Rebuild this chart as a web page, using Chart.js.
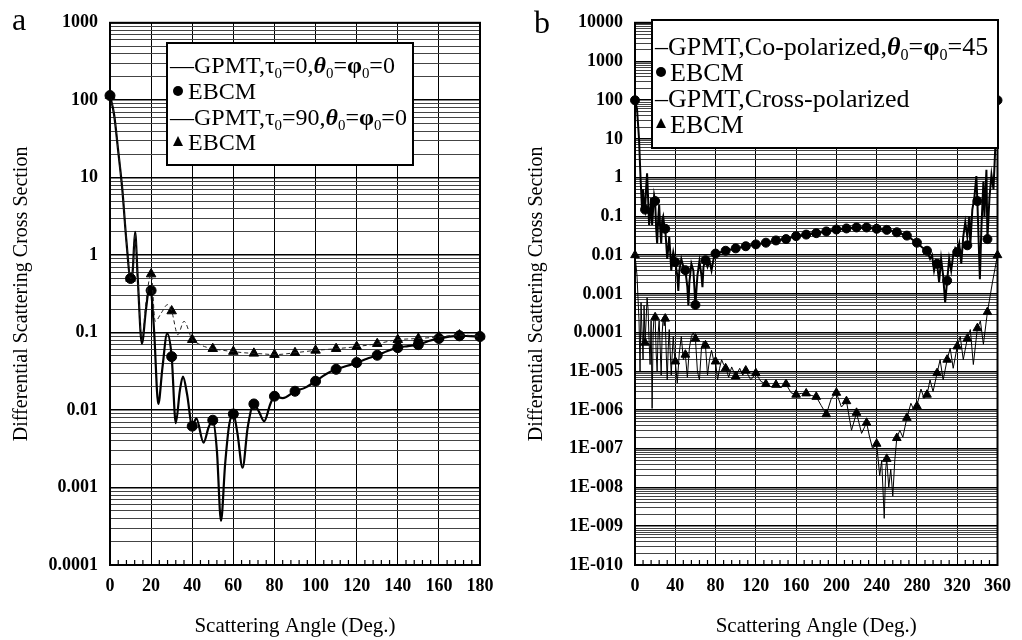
<!DOCTYPE html>
<html><head><meta charset="utf-8">
<script src="https://cdn.jsdelivr.net/npm/chart.js@4.4.1/dist/chart.umd.min.js"></script>
<style>
html,body{margin:0;padding:0;background:#fff;width:1022px;height:640px;overflow:hidden;font-family:"Liberation Serif",serif;color:#000;}
.wrap{position:absolute;top:0;height:640px;}
.panel{position:absolute;font-size:32px;line-height:1;font-family:"Liberation Serif",serif;}
</style></head>
<body>
<div class="wrap" style="left:0;width:515px"><canvas id="cA" width="515" height="640"></canvas></div>
<div class="wrap" style="left:515px;width:507px"><canvas id="cB" width="507" height="640"></canvas></div>
<div class="panel" style="left:12px;top:3px">a</div>
<div class="panel" style="left:534px;top:6px">b</div>

<script>
// ---------- Panel a data ----------
const aXTicks = [0,20,40,60,80,100,120,140,160,180];
const aYTickLabels = ['0.0001','0.001','0.01','0.1','1','10','100','1000'];
const aLine0Angle = [0,2,4,6,8,10,11,12.2,13.5,15.5,17.5,19.3,20,21.5,23.5,25.5,27.8,30,32,34,35.5,37.5,40,42,45.5,48,50,52,54,56,58,60,62,64.5,67,70,72.5,75,78,80,84,90,95,100,105,110,115,120,125,130,135,140,145,150,155,160,165,170,175,180];
const aLine0Value = [115,65,22,7,1.5,0.5,0.6,2.0,0.5,0.072,0.2,0.4,0.35,0.1,0.012,0.035,0.097,0.049,0.0068,0.018,0.027,0.016,0.0062,0.0078,0.0038,0.006,0.0074,0.003,0.00037,0.002,0.0065,0.0089,0.005,0.0018,0.006,0.012,0.0095,0.0072,0.012,0.0151,0.0143,0.0175,0.0195,0.0236,0.029,0.0336,0.037,0.041,0.046,0.051,0.058,0.064,0.067,0.070,0.078,0.084,0.089,0.091,0.090,0.089];
const aLine90Angle = [0,2,4,6,8,10,11,12.2,13.5,15.5,17.5,20,22,25,28,30,33,36,40,43,46,50,55,60,65,70,75,80,85,90,95,100,110,120,130,140,150,160,170,180];
const aLine90Value = [115,65,22,7,1.5,0.5,0.6,1.9,0.5,0.08,0.25,0.57,0.14,0.18,0.23,0.19,0.094,0.14,0.081,0.072,0.066,0.062,0.059,0.057,0.055,0.054,0.053,0.052,0.053,0.055,0.057,0.059,0.062,0.066,0.072,0.081,0.084,0.088,0.093,0.09];
const aEbcmAngle = [0,10,20,30,40,50,60,70,80,90,100,110,120,130,140,150,160,170,180];
const aEbcm0Value = [115,0.5,0.35,0.049,0.0062,0.0074,0.0089,0.012,0.0151,0.0175,0.0236,0.0336,0.041,0.051,0.064,0.070,0.084,0.091,0.089];
const aEbcm90Value = [115,0.5,0.57,0.19,0.081,0.062,0.057,0.054,0.052,0.055,0.059,0.062,0.066,0.072,0.081,0.084,0.088,0.093,0.09];
const aLegendRows = [
  {marker: 'line', parts: [['—GPMT,τ'], ['0', 'sub'], ['=0,'], ['θ', 'bi'], ['0', 'sub'], ['='], ['φ', 'b'], ['0', 'sub'], ['=0']]},
  {marker: 'circle', parts: [['EBCM']]},
  {marker: 'line', parts: [['—GPMT,τ'], ['0', 'sub'], ['=90,'], ['θ', 'bi'], ['0', 'sub'], ['='], ['φ', 'b'], ['0', 'sub'], ['=0']]},
  {marker: 'triangle', parts: [['EBCM']]}
];

// ---------- Panel b data ----------
const bXTicks = [0,40,80,120,160,200,240,280,320,360];
const bYTickLabels = ['1E-010','1E-009','1E-008','1E-007','1E-006','1E-005','0.0001','0.001','0.01','0.1','1','10','100','1000','10000'];
const bCoAngle = [0,2,4,5.5,7,8,9,10,11,12,13,14,15,16,17,18,19,20,21,22,23,24,25,26,27,28,29,30,31,32,33,34,35,36,37,38,40,42,43,44,46,48,50,52,53,54,56,58,60,62,64,66,67,68,70,72,74,76,78,80,90,100,110,120,130,140,150,160,170,180,190,200,210,220,230,240,250,260,270,280,285,290,293,295,297,299,300,302,304,306,308,310,312,314,316,318,320,322,324,326,328,330,332,333,335,337,339,340,342.5,344,346,347,349,350,352,354,356,358,360];
const bCoValue = [100,60,10,1.0,0.15,0.5,0.2,0.15,0.5,1.3,0.3,0.06,0.1,0.3,0.06,0.15,0.35,0.25,0.05,0.02,0.08,0.2,0.05,0.02,0.08,0.1,0.06,0.048,0.02,0.008,0.015,0.03,0.012,0.004,0.008,0.012,0.0066,0.003,0.0012,0.004,0.008,0.005,0.0041,0.0015,0.0005,0.002,0.006,0.004,0.00052,0.003,0.007,0.003,0.0015,0.005,0.0074,0.005,0.007,0.004,0.008,0.011,0.013,0.015,0.017,0.019,0.021,0.024,0.026,0.031,0.034,0.037,0.041,0.046,0.049,0.052,0.052,0.048,0.045,0.039,0.032,0.021,0.016,0.013,0.008,0.01,0.004,0.007,0.006,0.002,0.008,0.003,0.0006,0.0022,0.008,0.004,0.01,0.015,0.012,0.02,0.006,0.03,0.07,0.03,0.1,0.018,0.15,0.3,1.1,0.25,0.0024,0.05,0.8,0.1,1.6,0.026,0.3,1.2,0.5,8,100];
const bCrossAngle = [0,2,4,5,6,7,8,9,10,11,12,13,14,15,16,17,18,19,20,21,22,23,24,25,26,27,28,29,30,31,32,33,34,35,36,37,38,39,40,42,44,46,48,50,52,54,56,58,60,62,64,66,68,70,72,74,76,78,80,82,84,86,88,90,93,96,100,104,107,110,115,120,125,130,135,140,145,150,155,160,165,170,175,180,185,190,195,200,205,210,215,220,225,230,233,236,240,243,245,247.5,249,250,252,254,256,258,260,263,266,270,274,277,280,284,287,290,293,296,300,303,306,310,313,316,320,323,326,330,333,336,340,343,346,350,355,360];
const bCrossValue = [0.01,0.003,2e-4,1e-5,6e-4,1e-4,2e-5,5e-4,5.5e-5,2e-4,8e-4,4e-4,6e-5,1.5e-5,2e-4,1.1e-6,1e-4,3e-4,2.5e-4,3e-5,1e-5,1e-4,2e-4,4e-5,8e-6,1e-4,2.5e-4,1.5e-4,2.3e-4,3e-5,6e-6,4e-5,1.2e-4,3e-5,8e-6,3e-5,8e-5,3e-5,1.8e-5,5e-6,3e-5,8e-5,2e-5,2.7e-5,7e-6,4e-5,8e-5,1e-4,7e-5,1e-5,6e-6,4e-5,6e-5,4.5e-5,8e-6,2e-5,3.5e-5,2e-5,1.8e-5,6e-6,1.2e-5,2e-5,1.5e-5,1.3e-5,7e-6,1.3e-5,7.4e-6,1.2e-5,8e-6,1.05e-5,6e-6,9e-6,5.5e-6,4.7e-6,4e-6,4.5e-6,3.8e-6,4.7e-6,2.8e-6,2.5e-6,2.7e-6,2.7e-6,2.4e-6,2.2e-6,1.3e-6,7.8e-7,2e-6,2.8e-6,1.2e-6,1.7e-6,3e-7,8.5e-7,2.5e-7,4.7e-7,2e-7,1e-7,1.35e-7,2e-8,5e-8,1.6e-9,3e-8,5.5e-8,1e-8,3e-8,6e-9,5e-8,1.9e-7,3e-7,2e-7,6.3e-7,1.5e-6,1e-6,1.3e-6,3.5e-6,2e-6,2.5e-6,6e-6,3e-6,9e-6,2e-5,6e-6,2e-5,4e-5,1.2e-5,4.4e-5,8e-5,2e-5,7e-5,1.2e-4,1.5e-5,1.3e-4,2e-4,5e-5,3.4e-4,2e-3,0.01];
const bEbcmAngle = [0,10,20,30,40,50,60,70,80,90,100,110,120,130,140,150,160,170,180,190,200,210,220,230,240,250,260,270,280,290,300,310,320,330,340,350,360];
const bEbcmCoValue = [100,0.15,0.25,0.048,0.0066,0.0041,0.00052,0.0074,0.011,0.013,0.015,0.017,0.019,0.021,0.024,0.026,0.031,0.034,0.037,0.041,0.046,0.049,0.052,0.052,0.048,0.045,0.039,0.032,0.021,0.013,0.006,0.0022,0.012,0.018,0.25,0.026,100];
const bEbcmCrossValue = [0.01,5.5e-5,2.5e-4,2.3e-4,1.8e-5,2.7e-5,7e-5,4.7e-5,1.8e-5,1.2e-5,7.4e-6,1.05e-5,9e-6,4.7e-6,4.5e-6,4.7e-6,2.5e-6,2.7e-6,2.2e-6,7.8e-7,2.8e-6,1.7e-6,8.5e-7,4.7e-7,1.35e-7,5.5e-8,1.9e-7,6.3e-7,1.26e-6,2.5e-6,9e-6,2e-5,4.4e-5,7e-5,1.3e-4,3.4e-4,0.01];
const bLegendRows = [
  {marker: 'line', parts: [['–GPMT,Co-polarized,'], ['θ', 'bi'], ['0', 'sub'], ['='], ['φ', 'b'], ['0', 'sub'], ['=45']]},
  {marker: 'circle', parts: [['EBCM']]},
  {marker: 'line', parts: [['–GPMT,Cross-polarized']]},
  {marker: 'triangle', parts: [['EBCM']]}
];

// ---------- helpers ----------
const FAMILY = '"Liberation Serif", "Times New Roman", serif';
const pts = (xs, ys) => xs.map((x, i) => ({x, y: ys[i]}));

function logTicks(minExp, maxExp) {
  const t = [];
  for (let e = minExp; e <= maxExp; e++) {
    t.push({value: Math.pow(10, e), major: true});
    if (e < maxExp) for (let k = 2; k <= 9; k++) t.push({value: k * Math.pow(10, e), major: false});
  }
  return t;
}

const framePlugin = {
  id: 'frame',
  afterDraw(chart, args, opts) {
    const {ctx, chartArea: {left, top, right, bottom}, scales: {x}} = chart;
    ctx.save();
    ctx.strokeStyle = '#000';
    ctx.lineWidth = 1.2;
    const step = opts.minorStep, max = x.max;
    for (let v = step; v < max; v += step) {
      if (Math.abs(v % opts.majorStep) < 1e-9) continue;
      const px = x.getPixelForValue(v);
      ctx.beginPath(); ctx.moveTo(px, bottom); ctx.lineTo(px, bottom - 5); ctx.stroke();
    }
    ctx.lineWidth = 2;
    ctx.strokeRect(left, top, right - left, bottom - top);
    ctx.restore();
  }
};

// Boxed legend drawn inside the plot, text drawn as canvas text
function makeLegendPlugin(rows, box) {
  return {
    id: 'boxLegend',
    afterDraw(chart) {
      const ctx = chart.ctx;
      ctx.save();
      ctx.fillStyle = '#fff';
      ctx.fillRect(box.left, box.top, box.width, box.height);
      ctx.lineWidth = 2; ctx.strokeStyle = '#000';
      ctx.strokeRect(box.left, box.top, box.width, box.height);
      ctx.fillStyle = '#000';
      ctx.textBaseline = 'alphabetic';
      ctx.textAlign = 'left';
      rows.forEach((row, i) => {
        const cy = box.rowY[i];
        let x = box.left + box.textX;
        if (row.marker === 'circle') {
          ctx.beginPath(); ctx.arc(box.left + box.markX, cy, 5, 0, 2 * Math.PI); ctx.fill();
          x = box.left + box.labelX;
        } else if (row.marker === 'triangle') {
          const mx = box.left + box.markX;
          ctx.beginPath(); ctx.moveTo(mx, cy - 6); ctx.lineTo(mx + 5, cy + 4); ctx.lineTo(mx - 5, cy + 4); ctx.closePath(); ctx.fill();
          x = box.left + box.labelX;
        }
        const base = cy + box.size * 0.34;
        row.parts.forEach(([t, st]) => {
          let sz = box.size, dy = 0, style = 'normal', weight = 'normal';
          if (st === 'sub') { sz = box.size * 0.62; dy = box.size * 0.2; }
          if (st === 'b' || st === 'bi') weight = 'bold';
          if (st === 'bi') style = 'italic';
          ctx.font = `${style} ${weight} ${sz}px ${FAMILY}`;
          ctx.fillText(t, x, base + dy);
          x += ctx.measureText(t).width;
        });
      });
      ctx.restore();
    }
  };
}

function makeOptions(cfg) {
  return {
    responsive: false,
    animation: false,
    devicePixelRatio: 1,
    layout: {padding: {left: 0, right: cfg.padRight, top: 19, bottom: 0}},
    plugins: {
      legend: {display: false},
      tooltip: {enabled: false},
      frame: {minorStep: cfg.minorStep, majorStep: cfg.majorStep}
    },
    scales: {
      x: {
        type: 'linear', min: cfg.xTicks[0], max: cfg.xTicks[cfg.xTicks.length - 1],
        afterBuildTicks: s => { s.ticks = cfg.xTicks.map(v => ({value: v})); },
        afterFit: s => { s.height = 75; },
        ticks: {autoSkip: false, maxRotation: 0, padding: 11, color: '#000',
                font: {family: FAMILY, size: 18, weight: 'bold'}},
        grid: {drawTicks: false, color: '#000', lineWidth: 1},
        border: {display: false},
        title: {display: true, text: 'Scattering Angle (Deg.)', color: '#000',
                font: {family: FAMILY, size: 21}, padding: {top: 0, bottom: 1}}
      },
      y: {
        type: 'logarithmic', min: Math.pow(10, cfg.minExp), max: Math.pow(10, cfg.maxExp),
        afterBuildTicks: s => { s.ticks = logTicks(cfg.minExp, cfg.maxExp); },
        afterFit: s => { s.width = cfg.yWidth; },
        ticks: {autoSkip: false, padding: 12, color: '#000',
                font: {family: FAMILY, size: 18, weight: 'bold'},
                callback: (v, i, t) => t[i].major ? cfg.yLabels[Math.round(Math.log10(v)) - cfg.minExp] : ''},
        grid: {drawTicks: false,
               color: c => (c.tick && c.tick.major) ? '#000' : '#444',
               lineWidth: c => (c.tick && c.tick.major) ? 1.6 : 1},
        border: {display: false},
        title: {display: true, text: 'Differential Scattering Cross Section', color: '#000',
                font: {family: FAMILY, size: 20}, padding: {top: 10, bottom: 0}}
      }
    }
  };
}

const lineDs = (data, w, extra) => Object.assign({data, borderColor: '#000', borderWidth: w, pointRadius: 0,
  fill: false, tension: 0, clip: false}, extra || {});
const markDs = (data, style, r) => ({data, showLine: false, pointStyle: style, pointRadius: r,
  pointBackgroundColor: '#000', pointBorderColor: '#000', pointBorderWidth: 1, clip: false});

new Chart(document.getElementById('cA'), {
  type: 'line',
  data: {datasets: [
    lineDs(pts(aLine90Angle, aLine90Value), 1, {borderColor: '#222', borderDash: [4, 3], cubicInterpolationMode: 'monotone'}),
    lineDs(pts(aLine0Angle, aLine0Value), 2.2, {cubicInterpolationMode: 'monotone'}),
    markDs(pts(aEbcmAngle, aEbcm90Value), 'triangle', 5.5),
    markDs(pts(aEbcmAngle, aEbcm0Value), 'circle', 5)
  ]},
  options: makeOptions({xTicks: aXTicks, minExp: -4, maxExp: 3, yLabels: aYTickLabels,
                        yWidth: 110, padRight: 35, minorStep: 4, majorStep: 20}),
  plugins: [framePlugin, makeLegendPlugin(aLegendRows,
    {left: 167, top: 43, width: 246, height: 122, size: 24, textX: 3, markX: 11, labelX: 21, rowY: [65, 91, 117, 142]})]
});

new Chart(document.getElementById('cB'), {
  type: 'line',
  data: {datasets: [
    lineDs(pts(bCrossAngle, bCrossValue), 1),
    lineDs(pts(bCoAngle, bCoValue), 2),
    markDs(pts(bEbcmAngle, bEbcmCrossValue), 'triangle', 5),
    markDs(pts(bEbcmAngle, bEbcmCoValue), 'circle', 4.5)
  ]},
  options: makeOptions({xTicks: bXTicks, minExp: -10, maxExp: 4, yLabels: bYTickLabels,
                        yWidth: 120, padRight: 19, minorStep: 8, majorStep: 40}),
  plugins: [framePlugin, makeLegendPlugin(bLegendRows,
    {left: 137, top: 20, width: 346, height: 128, size: 26, textX: 3, markX: 9, labelX: 18, rowY: [46, 72, 98, 124]})]
});
</script>
</body></html>
